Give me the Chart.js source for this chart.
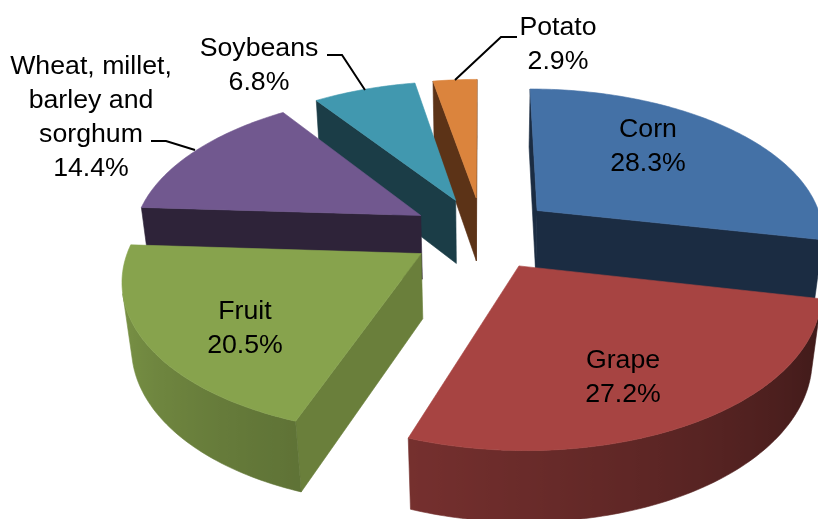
<!DOCTYPE html>
<html>
<head>
<meta charset="utf-8">
<title>Crop share</title>
<script src="https://cdn.jsdelivr.net/npm/chart.js@4/dist/chart.umd.min.js"></script>
<style>
  html, body { margin:0; padding:0; background:#fff; overflow:hidden; }
  canvas { display:block; }
</style>
</head>
<body>
<canvas id="pie" width="818" height="519"></canvas>
<script>
// data, clockwise from 12 o'clock
const CROPS  = ['Corn','Grape','Fruit','Wheat, millet, barley and sorghum','Soybeans','Potato'];
const SHARES = [28.3, 27.2, 20.5, 14.4, 6.8, 2.9];

const TOP_COLORS  = ['#4471a6','#a74442','#87a34d','#71588f','#4198af','#db843d'];
const FACE_COLORS = ['#1b2c42','#461b18','#6a7f3b','#2e2339','#1b3d47','#5c3317'];
const WALL_COLORS = ['#1b2c42','#a74442','#87a34d','#2e2339','#1b3d47','#5c3317'];
const PAINT_ORDER = [5, 4, 3, 0, 2, 1];

// labels: text lines, centre x, first baseline y
const LABELS = [
  { lines:['Corn','28.3%'], x:648, y:137 },
  { lines:['Grape','27.2%'], x:623, y:368 },
  { lines:['Fruit','20.5%'], x:245, y:319 },
  { lines:['Wheat, millet,','barley and','sorghum','14.4%'], x:91, y:74 },
  { lines:['Soybeans','6.8%'], x:259, y:56 },
  { lines:['Potato','2.9%'], x:558, y:35 }
];
const LEADERS = [
  [[327,55],[342,55],[365,90]],
  [[151,141],[166,141],[195,150]],
  [[517,37],[501,37],[455,80]]
];

// camera fitted to the picture: u right, v towards viewer, z down
const CX = 482.5, CY = 233, RX = 288, RY = 146, DEPTH = 66;
const PERSP = 0.15, SINK = 0.026, EXPLODE = 0.25;

function project(u, v, z) {
  const w = 1 - PERSP * v + SINK * z;
  return [CX + RX * u / w, CY + (RY * v + DEPTH * z) / w];
}

function shade(hex, f) {
  const n = parseInt(hex.slice(1), 16);
  const r = Math.round((n >> 16) * f), g = Math.round(((n >> 8) & 255) * f), b = Math.round((n & 255) * f);
  return `rgb(${r},${g},${b})`;
}

function poly(ctx, pts, color) {
  ctx.beginPath();
  pts.forEach((p, i) => i ? ctx.lineTo(p[0], p[1]) : ctx.moveTo(p[0], p[1]));
  ctx.closePath();
  ctx.fillStyle = color;
  ctx.fill();
  ctx.strokeStyle = color;
  ctx.lineWidth = 0.6;
  ctx.stroke();
}

function area(pts) {
  let s = 0;
  pts.forEach((p, i) => {
    const q = pts[(i + 1) % pts.length];
    s += p[0] * q[1] - q[0] * p[1];
  });
  return s;
}

function drawSlice(ctx, arc, i) {
  const mid = (arc.startAngle + arc.endAngle) / 2;
  const ox = Math.cos(mid) * EXPLODE, oy = Math.sin(mid) * EXPLODE;
  const steps = Math.max(2, Math.ceil((arc.endAngle - arc.startAngle) / (Math.PI / 180)));
  const rim = [];
  for (let k = 0; k <= steps; k++) {
    const a = arc.startAngle + (arc.endAngle - arc.startAngle) * k / steps;
    rim.push([ox + Math.cos(a), oy + Math.sin(a), a]);
  }
  const apexT = project(ox, oy, 0), apexB = project(ox, oy, 1);

  // flat cut faces
  const first = rim[0], last = rim[rim.length - 1];
  const startFace = [apexT, project(first[0], first[1], 0), project(first[0], first[1], 1), apexB];
  const endFace = [project(last[0], last[1], 0), apexT, apexB, project(last[0], last[1], 1)];
  [startFace, endFace].forEach(f => { if (area(f) < 0) poly(ctx, f, FACE_COLORS[i]); });

  // curved wall as one shape with a left-right gradient, lit towards the left
  const upper = [], lower = [], stops = [];
  for (let k = 0; k < steps; k++) {
    const a = rim[k], b = rim[k + 1];
    const q = [project(a[0], a[1], 0), project(b[0], b[1], 0), project(b[0], b[1], 1), project(a[0], a[1], 1)];
    if (area(q) >= 0) continue;
    if (!upper.length) { upper.push(q[0]); lower.push(q[3]); }
    upper.push(q[1]);
    lower.push(q[2]);
    const deg = (a[2] + Math.PI / 2) * 180 / Math.PI;
    stops.push([q[0][0], Math.max(0.3, Math.min(1, 0.42 + (deg - 120) * 0.00357))]);
  }
  if (upper.length) {
    const xs = stops.map(s => s[0]);
    const x0 = Math.min(...xs), x1 = Math.max(...xs);
    const grad = ctx.createLinearGradient(x0, 0, x1 + 0.01, 0);
    stops.forEach(s => grad.addColorStop((s[0] - x0) / (x1 + 0.01 - x0), shade(WALL_COLORS[i], s[1])));
    poly(ctx, upper.concat(lower.reverse()), grad);
  }

  // top
  poly(ctx, [apexT].concat(rim.map(r => project(r[0], r[1], 0))), TOP_COLORS[i]);
}

const pie3d = {
  id: 'pie3d',
  beforeDatasetsDraw(chart) {
    const meta = chart.getDatasetMeta(0);
    PAINT_ORDER.forEach(i => drawSlice(chart.ctx, meta.data[i], i));
    return false;
  },
  afterDraw(chart) {
    const ctx = chart.ctx;
    ctx.save();
    ctx.strokeStyle = '#000';
    ctx.lineWidth = 2;
    LEADERS.forEach(l => {
      ctx.beginPath();
      l.forEach((p, i) => i ? ctx.lineTo(p[0], p[1]) : ctx.moveTo(p[0], p[1]));
      ctx.stroke();
    });
    ctx.fillStyle = '#000';
    ctx.font = '26.7px "Liberation Sans", Arial, sans-serif';
    ctx.textAlign = 'center';
    LABELS.forEach(l => l.lines.forEach((t, k) => ctx.fillText(t, l.x, l.y + k * 34)));
    ctx.restore();
  }
};

new Chart(document.getElementById('pie'), {
  type: 'pie',
  data: { labels: CROPS, datasets: [{ data: SHARES, backgroundColor: TOP_COLORS, borderWidth: 0 }] },
  options: {
    responsive: false,
    animation: false,
    rotation: 0,
    plugins: { legend: { display: false }, tooltip: { enabled: false } }
  },
  plugins: [pie3d]
});
</script>
</body>
</html>
